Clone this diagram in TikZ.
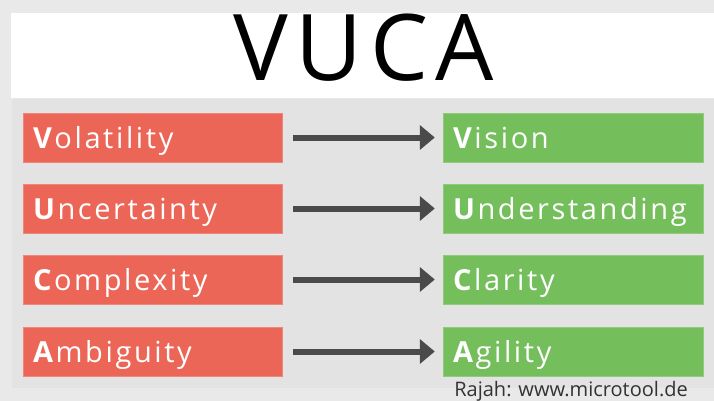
\documentclass[tikz,border=0pt]{standalone}
\usepackage{fontspec}
\setmainfont{Open Sans}
\newfontfamily\boxfont{Open Sans}[LetterSpace=9]
\usetikzlibrary{positioning}
\usetikzlibrary{arrows.meta}
\definecolor{vred}{RGB}{236,102,88}
\definecolor{vgreen}{RGB}{116,190,92}
\definecolor{vshaft}{RGB}{74,74,74}
\definecolor{vpanel}{RGB}{227,227,227}
\definecolor{vback}{RGB}{233,233,233}
\tikzset{
    redbox/.style = {rectangle, fill=vred, draw=vred!80!white, minimum width=259pt, minimum height=49pt, text width=239pt, inner xsep=10pt, align=left, text height=24pt, text depth=3pt, text=white, font=\boxfont\fontsize{29}{29}\selectfont},
    greenbox/.style = {redbox, fill=vgreen, draw=vgreen!80!white, minimum width=260pt, text width=240pt},
    edgen/.style = {-{Triangle[length=15pt,width=24pt]}, line width=6pt, vshaft, shorten <=11pt, shorten >=8pt},
}

\begin{document}
\begin{tikzpicture}[x=1pt,y=-1pt]
% background, title band and panel
\fill[vback] (0,0) rectangle (714,401);
\fill[white] (11,13) rectangle (714,98);
\fill[vpanel] (12,99) rectangle (714,388);
\useasboundingbox (0,0) rectangle (714,401);
%
\begin{scope}
\clip (11,13) rectangle (714,98);
\node[anchor=base, inner sep=0, font=\fontsize{92}{92}\selectfont\addfontfeature{LetterSpace=8}] (title) at (364,81) {VUCA};
\end{scope}
%
\node[redbox] at (152.5, 137.5) (v1) {\textbf{V}olatility};
\node[redbox] at (152.5, 208.5) (u1) {\textbf{U}ncertainty};
\node[redbox] at (152.5, 279.5) (c1) {\textbf{C}omplexity};
\node[redbox] at (152.5, 351.5) (a1) {\textbf{A}mbiguity};
\node[greenbox] at (573, 137.5) (v2) {\textbf{V}ision};
\node[greenbox] at (573, 208.5) (u2) {\textbf{U}nderstanding};
\node[greenbox] at (573, 279.5) (c2) {\textbf{C}larity};
\node[greenbox] at (573, 351.5) (a2) {\textbf{A}gility};
%
\draw[edgen] (v1) -- (v2);
\draw[edgen] (u1) -- (u2);
\draw[edgen] (c1) -- (c2);
\draw[edgen] (a1) -- (a2);
%
\node[anchor=base east, inner sep=0, text=black!80, font=\fontsize{20}{20}\selectfont] (src) at (688,396) {Rajah: www.microtool.de};
\end{tikzpicture}
\end{document}
